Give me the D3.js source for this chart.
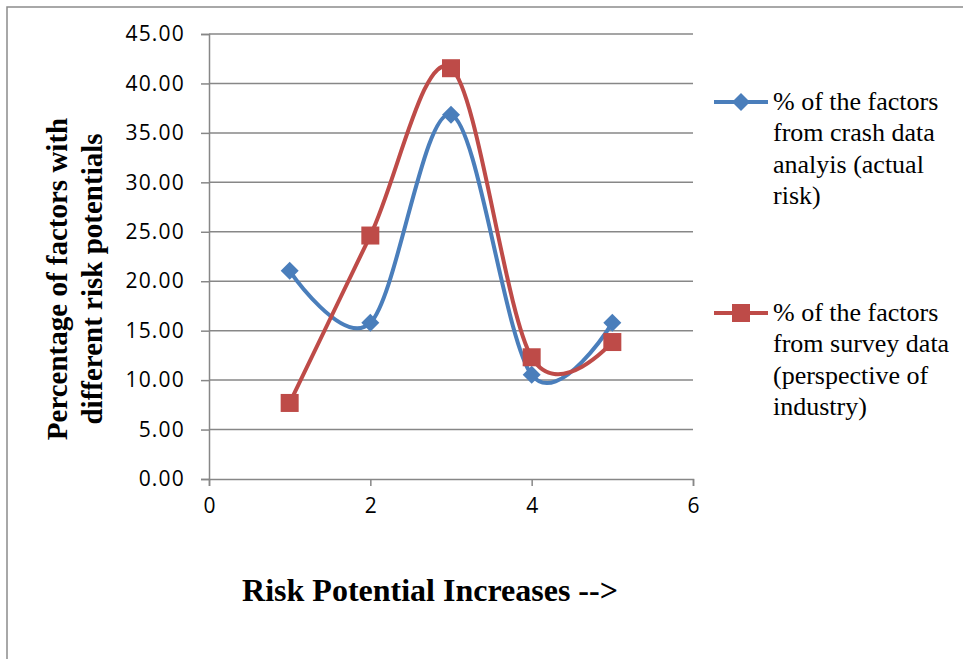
<!DOCTYPE html>
<html><head><meta charset="utf-8">
<script src="https://cdn.jsdelivr.net/npm/d3@7"></script>
<style>body{margin:0;background:#fff}svg{display:block}</style>
</head><body>
<svg id="c" width="963" height="659"></svg>
<script>
const xValues = [1, 2, 3, 4, 5];
const crashSeries = [21.05, 15.79, 36.84, 10.53, 15.79];
const surveySeries = [7.69, 24.62, 41.54, 12.31, 13.85];
const yTicks = [0, 5, 10, 15, 20, 25, 30, 35, 40, 45];
const xTicks = [0, 2, 4, 6];
const seriesNames = [
  ["% of the factors", "from crash data", "analyis (actual", "risk)"],
  ["% of the factors", "from survey data", "(perspective of", "industry)"]
];
const colors = ["#4A7EBB", "#BE4B48"];

const svg = d3.select("#c");
const serif = "'Liberation Serif', 'Times New Roman', serif";
// outer frame
svg.append("rect").attr("x", 7).attr("y", 7).attr("width", 1000).attr("height", 700)
  .attr("fill", "none").attr("stroke", "#8c8c8c").attr("stroke-width", 1.5);

const x = d3.scaleLinear().domain([0, 6]).range([209, 693]);
const y = d3.scaleLinear().domain([0, 45]).range([479, 34]);
const grid = "#878787";
const tickFont = "'Open Sans', sans-serif";

// gridlines
svg.append("g").selectAll("line").data(yTicks.filter(d => d > 0)).join("line")
  .attr("x1", x(0)).attr("x2", x(6)).attr("y1", d => y(d)).attr("y2", d => y(d))
  .attr("stroke", grid).attr("stroke-width", 1.5);

// y axis
const yAxis = svg.append("g").attr("transform", `translate(${x(0)},0)`)
  .call(d3.axisLeft(y).tickValues(yTicks).tickFormat(d3.format(".2f")).tickSize(8).tickPadding(16));
yAxis.select(".domain").attr("stroke", grid).attr("stroke-width", 1.5);
yAxis.selectAll(".tick line").attr("stroke", grid).attr("stroke-width", 1.5);
yAxis.selectAll(".tick text").attr("font-family", tickFont).attr("font-size", 21)
  .attr("letter-spacing", 1.2).attr("fill", "#000");

// x axis
const xAxis = svg.append("g").attr("transform", `translate(0,${y(0)})`)
  .call(d3.axisBottom(x).tickValues(xTicks).tickFormat(d3.format("d")).tickSize(7).tickPadding(12));
xAxis.select(".domain").attr("stroke", grid).attr("stroke-width", 1.5);
xAxis.selectAll(".tick line").attr("stroke", grid).attr("stroke-width", 1.5);
xAxis.selectAll(".tick text").attr("font-family", tickFont).attr("font-size", 21).attr("fill", "#000");

const line = d3.line().x((d, i) => x(xValues[i])).y(d => y(d)).curve(d3.curveCardinal.tension(0));
const allSeries = [crashSeries, surveySeries];

function marker(g, k, cx, cy) {
  if (k === 0) {
    g.append("path").attr("d", `M${cx},${cy - 9}L${cx + 9},${cy}L${cx},${cy + 9}L${cx - 9},${cy}Z`)
      .attr("fill", colors[0]);
  } else {
    g.append("rect").attr("x", cx - 9).attr("y", cy - 9).attr("width", 18).attr("height", 18)
      .attr("fill", colors[1]);
  }
}

allSeries.forEach((s, k) => {
  svg.append("path").attr("d", line(s)).attr("fill", "none").attr("stroke", colors[k])
    .attr("stroke-width", 4).attr("stroke-linejoin", "round");
});
allSeries.forEach((s, k) => {
  const g = svg.append("g");
  s.forEach((v, i) => marker(g, k, x(xValues[i]), y(v)));
});

// legend
const legY = [102, 313];
seriesNames.forEach((lines, k) => {
  const g = svg.append("g");
  g.append("line").attr("x1", 714).attr("x2", 768).attr("y1", legY[k]).attr("y2", legY[k])
    .attr("stroke", colors[k]).attr("stroke-width", 4);
  marker(g, k, 741, legY[k]);
  g.append("text").attr("x", 773).attr("y", legY[k] + 8)
    .attr("font-family", serif).attr("font-size", 26)
    .selectAll("tspan").data(lines).join("tspan")
    .attr("x", 773).attr("dy", (d, i) => i === 0 ? 0 : 31.3).text(d => d);
});

// axis titles
svg.append("text").attr("transform", "rotate(-90)")
  .attr("font-family", serif).attr("font-weight", "bold")
  .attr("font-size", 29).attr("text-anchor", "middle")
  .selectAll("tspan").data(["Percentage of factors with", "different risk potentials"]).join("tspan")
  .attr("x", -279).attr("y", (d, i) => i === 0 ? 67 : 102).text(d => d);

svg.append("text").attr("x", 430).attr("y", 601).attr("text-anchor", "middle")
  .attr("font-family", serif).attr("font-weight", "bold")
  .attr("font-size", 32).text("Risk Potential Increases -->");
</script>
</body></html>
